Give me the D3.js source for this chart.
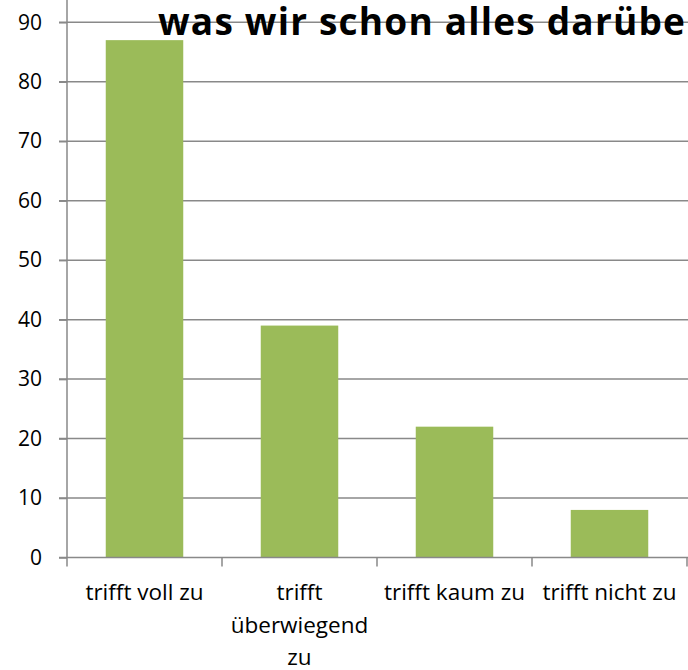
<!DOCTYPE html>
<html>
<head>
<meta charset="utf-8">
<script src="https://cdn.jsdelivr.net/npm/d3@7"></script>
<style>
    html, body { margin: 0; padding: 0; background: #fff; overflow: hidden; }
    svg { display: block; font-family: "Open Sans", sans-serif; }
</style>
</head>
<body>
<div id="chart"></div>
<script>
const categories = ["trifft voll zu", "trifft überwiegend zu", "trifft kaum zu", "trifft nicht zu"];
const labelLines = [["trifft voll zu"], ["trifft", "überwiegend", "zu"], ["trifft kaum zu"], ["trifft nicht zu"]];
const values = [87, 39, 22, 8];
const yTicks = [0, 10, 20, 30, 40, 50, 60, 70, 80, 90];
const title = "was wir schon alles darüber";

const w = 688;
const h = 670;
const plotLeft = 67;
const plotRight = 687;
const plotTop = 22.3;
const plotBottom = 557.5;

const xScale = d3.scaleBand().domain(categories).range([plotLeft, plotRight]).padding(0);
const yScale = d3.scaleLinear().domain([0, 90]).range([plotBottom, plotTop]);

const svg = d3.select("#chart")
    .append("svg")
    .attr("width", w)
    .attr("height", h);

// gridlines
svg.append("g")
    .selectAll("line")
    .data(yTicks.filter((d) => d > 0))
    .enter()
    .append("line")
    .attr("x1", plotLeft - 8)
    .attr("x2", w)
    .attr("y1", (d) => yScale(d))
    .attr("y2", (d) => yScale(d))
    .attr("stroke", "#898989")
    .attr("stroke-width", 1.5);

// bars
const bw = xScale.bandwidth();
svg.append("g")
    .selectAll("rect")
    .data(values)
    .enter()
    .append("rect")
    .attr("x", (d, i) => xScale(categories[i]) + bw * 0.25)
    .attr("width", bw * 0.5)
    .attr("y", (d) => yScale(d))
    .attr("height", (d) => plotBottom - yScale(d))
    .attr("fill", "#9bbb59");

// y axis
const yAxis = d3.axisLeft(yScale).tickValues(yTicks).tickSize(8).tickPadding(17);
const yG = svg.append("g")
    .attr("transform", `translate(${plotLeft},0)`)
    .call(yAxis);
yG.select(".domain").attr("stroke", "#898989").attr("stroke-width", 1.5).attr("d", `M0,${plotBottom}V0`);
yG.selectAll(".tick line").attr("stroke", "#898989").attr("stroke-width", 1.5);
yG.selectAll(".tick text")
    .attr("font-size", 21)
    .attr("font-family", "Open Sans, sans-serif")
    .attr("fill", "#000");

// x axis line and boundary ticks
svg.append("line")
    .attr("x1", plotLeft - 8)
    .attr("x2", w)
    .attr("y1", plotBottom)
    .attr("y2", plotBottom)
    .attr("stroke", "#898989")
    .attr("stroke-width", 1.5);

const bounds = categories.map((c) => xScale(c)).concat([xScale.range()[1]]);
svg.append("g")
    .selectAll("line")
    .data(bounds)
    .enter()
    .append("line")
    .attr("x1", (d) => d)
    .attr("x2", (d) => d)
    .attr("y1", plotBottom)
    .attr("y2", plotBottom + 9)
    .attr("stroke", "#898989")
    .attr("stroke-width", 1.5);

// category labels
const labels = svg.append("g")
    .selectAll("text")
    .data(labelLines)
    .enter()
    .append("text")
    .attr("text-anchor", "middle")
    .attr("font-size", 22.5)
    .attr("fill", "#000")
    .attr("x", (d, i) => xScale(categories[i]) + bw / 2)
    .attr("y", 600);

labels.selectAll("tspan")
    .data((d) => d)
    .enter()
    .append("tspan")
    .attr("x", function () { return this.parentNode.getAttribute("x"); })
    .attr("dy", (d, i) => (i === 0 ? 0 : 32.5))
    .text((d) => d);

// title
svg.append("text")
    .attr("x", 158)
    .attr("y", 35)
    .attr("font-size", 37)
    .attr("font-weight", "bold")
    .attr("letter-spacing", 1.2)
    .attr("fill", "#000")
    .text(title);
</script>
</body>
</html>
